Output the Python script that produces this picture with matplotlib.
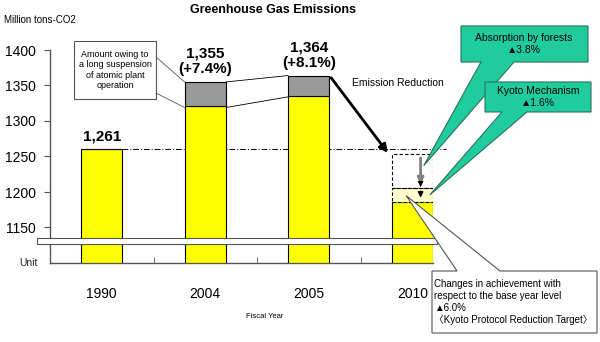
import matplotlib
matplotlib.use("Agg")
import matplotlib.pyplot as plt
from matplotlib.patches import Polygon, Rectangle

plt.rcParams["font.family"] = ["Liberation Sans", "DejaVu Sans"]
NARROW = ["Liberation Sans Narrow", "Liberation Sans", "DejaVu Sans"]

# data (million tons CO2)
years = ["1990", "2004", "2005", "2010"]
base_emissions = [1261, 1321, 1335]          # yellow part, 1990-2005
nuclear_effect = [0, 34, 29]                 # atomic plant suspension (grey)
value_labels = ["1,261", "1,355\n(+7.4%)", "1,364\n(+8.1%)"]
target_2010 = 1186                           # Kyoto target, -6.0 %
kyoto_mechanism = 20                         # 1.6 %
forest_absorption = 48                       # 3.8 %
yticks = [1150, 1200, 1250, 1300, 1350, 1400]

W, H = 600, 342
fig = plt.figure(figsize=(W / 100, H / 100), dpi=100)
ax = fig.add_axes([50 / W, 1 - 263 / H, 383 / W, 213 / H])
ax.set_xlim(-0.5, 3.2)
ax.set_ylim(1100, 1400)

yellow, grey = "#FFFF00", "#999999"
bw = 0.4
x = range(len(base_emissions))
totals = [b + n for b, n in zip(base_emissions, nuclear_effect)]
ax.bar(x, [b - 1100 for b in base_emissions], bottom=1100, width=bw,
       color=yellow, edgecolor="black", linewidth=0.8, zorder=3)
ax.bar(x, nuclear_effect, bottom=base_emissions, width=bw,
       color=grey, edgecolor="black", linewidth=0.8, zorder=3)

# 2010 target bar + reduction boxes
ax.bar(3, target_2010 - 1100, bottom=1100, width=bw, color=yellow,
       edgecolor="black", linewidth=0.8, zorder=3)
ax.bar(3, kyoto_mechanism, bottom=target_2010, width=bw, color="#FFFFCC",
       edgecolor="black", linewidth=0.8, linestyle=(0, (3, 2)), zorder=3)
ax.bar(3, forest_absorption, bottom=target_2010 + kyoto_mechanism, width=bw,
       color="none", edgecolor="black", linewidth=0.8, linestyle=(0, (3, 2)), zorder=3)

# base year reference line
ax.plot([0 + bw / 2, 3.33], [base_emissions[0]] * 2, color="black", lw=0.7,
        ls=(0, (6, 2, 1, 2)), clip_on=False, zorder=2)

# connector lines between grey segments
ax.plot([1 + bw / 2, 2 - bw / 2], [totals[1], totals[2]], color="black", lw=0.6, zorder=2)
ax.plot([1 + bw / 2, 2 - bw / 2], [base_emissions[1] - 2, base_emissions[2] - 1],
        color="black", lw=0.6, zorder=2)

# emission reduction arrow
ax.annotate("", xy=(2.78, 1252), xytext=(2 + bw / 2, totals[2]),
            arrowprops=dict(arrowstyle="-|>", color="black", lw=2, mutation_scale=12),
            zorder=5)
ax.text(2.42, 1354, "Emission Reduction", fontsize=7.5, ha="left", va="center")

# small arrows inside the 2010 boxes
xa = 3.08
top = target_2010 + kyoto_mechanism + forest_absorption
ax.annotate("", xy=(xa, target_2010 + kyoto_mechanism + 1), xytext=(xa, top - 2),
            arrowprops=dict(arrowstyle="-|>", color="#808080", lw=2, mutation_scale=9),
            zorder=5)
ax.annotate("", xy=(xa, target_2010 + kyoto_mechanism + 1),
            xytext=(xa, target_2010 + kyoto_mechanism + 8),
            arrowprops=dict(arrowstyle="-|>", color="black", lw=0.5, mutation_scale=9),
            zorder=6)
ax.annotate("", xy=(xa, target_2010 + 2), xytext=(xa, target_2010 + kyoto_mechanism - 1),
            arrowprops=dict(arrowstyle="-|>", color="black", lw=1, mutation_scale=8),
            zorder=6)

# value labels
for i, lab in enumerate(value_labels):
    ax.text(i, totals[i] + 8, lab, ha="center", va="bottom", fontsize=11,
            fontweight="bold", linespacing=1.15)

# axes styling
for s in ("top", "right"):
    ax.spines[s].set_visible(False)
for s in ("left", "bottom"):
    ax.spines[s].set_color("#555555")
    ax.spines[s].set_linewidth(1)
ax.set_yticks(yticks)
ax.set_yticklabels([str(v) for v in yticks], family=NARROW, fontsize=10)
ax.tick_params(axis="y", direction="out", length=4, color="#555555", pad=6)
ax.set_xticks([0.5, 1.5, 2.5], minor=True)
ax.set_xticks([0, 1, 2, 3])
ax.set_xticklabels(years, family=NARROW, fontsize=10)
ax.tick_params(axis="x", which="major", length=0, pad=17)
ax.tick_params(axis="x", which="minor", direction="in", length=4, color="#555555")

# overlay in pixel coordinates for annotations
ov = fig.add_axes([0, 0, 1, 1], zorder=10)
ov.set_xlim(0, W)
ov.set_ylim(H, 0)
ov.axis("off")
fig.canvas.draw()


def d2p(xd, yd):
    return ov.transData.inverted().transform(ax.transData.transform((xd, yd)))


# axis break band
ov.add_patch(Rectangle((37, 238), 400, 6, facecolor="white", edgecolor="#555555", lw=0.8))
ov.text(28, 263, "Unit", ha="center", va="center", fontsize=7.5, color="#222222")

ov.text(273, 10, "Greenhouse Gas Emissions", ha="center", va="center",
        fontsize=9, fontweight="bold")
ov.text(4, 20, "Million tons-CO2", ha="left", va="center", fontsize=7)
ov.text(265, 317, "Fiscal Year", ha="center", va="center", fontsize=5.5)

# note box for atomic plant suspension
ov.add_patch(Rectangle((74, 41), 82, 58, facecolor="white", edgecolor="#555555", lw=0.8))
ov.text(115, 70, "Amount owing to\na long suspension\nof atomic plant\noperation",
        ha="center", va="center", fontsize=6.5, family=NARROW, linespacing=1.2)
p1 = d2p(1 - bw / 2, totals[1])
p2 = d2p(1 - bw / 2, base_emissions[1] - 2)
ov.plot([156, p1[0]], [57, p1[1]], color="#555555", lw=0.6)
ov.plot([156, p2[0]], [93, p2[1]], color="#555555", lw=0.6)

# green callouts
green = "#1ECC9E"
apex1 = d2p(3.11, 1237)
ov.add_patch(Polygon([(461, 26), (588, 26), (588, 62), (514, 62), tuple(apex1),
                      (481, 62), (461, 62)], closed=True, facecolor=green,
                     edgecolor="#2F6F5A", lw=0.8))
ov.text(524, 44, "Absorption by forests\n\u25B23.8%", ha="center", va="center",
        fontsize=7.5, linespacing=1.2)
apex2 = d2p(3.17, 1196)
ov.add_patch(Polygon([(485, 82), (591, 82), (591, 112), (527, 112), tuple(apex2),
                      (502, 112), (485, 112)], closed=True, facecolor=green,
                     edgecolor="#2F6F5A", lw=0.8))
ov.text(538, 97, "Kyoto Mechanism\n\u25B21.6%", ha="center", va="center",
        fontsize=7.5, linespacing=1.2)

# bottom callout
apex3 = d2p(2.94, 1195)
ov.add_patch(Polygon([(432, 271), (457, 271), tuple(apex3), (500, 271), (597, 271),
                      (597, 333), (432, 333)], closed=True, facecolor="white",
                     edgecolor="#555555", lw=0.8))
ov.text(434, 302, "Changes in achievement with\nrespect to the base year level\n"
        "\u25B26.0%\n\u3008Kyoto Protocol Reduction Target\u3009",
        ha="left", va="center", fontsize=7.0, linespacing=1.2,
        family=["Liberation Sans", "Noto Sans CJK JP", "DejaVu Sans"])

fig.savefig("out.png", dpi=100)
